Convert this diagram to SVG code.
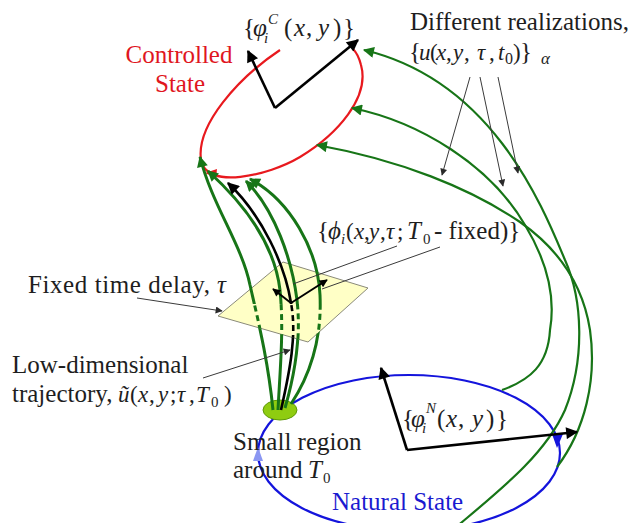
<svg xmlns="http://www.w3.org/2000/svg" xmlns:xlink="http://www.w3.org/1999/xlink" width="633" height="523" viewBox="0 0 633 523">
<style>
  text { font-family: "Liberation Serif", "Times New Roman", serif; font-size: 25px; fill: #1e1e1e; }
  .it { font-style: italic; }
  .sub { font-size: 15px; }
  .m { font-size: 23px; }
  .gr { fill: none; stroke: #177517; stroke-width: 3; }
  .gr2 { fill: none; stroke: #177517; stroke-width: 2.2; }
  .bk { fill: none; stroke: #000; stroke-width: 2.6; }
  .ptr { fill: none; stroke: #3a3a3a; stroke-width: 1; }
  .ax { fill: none; stroke: #000; stroke-width: 2.6; }
</style>
<defs>
  <marker id="ga" viewBox="0 0 10 10" refX="9" refY="5" markerUnits="userSpaceOnUse" markerWidth="14" markerHeight="11" orient="auto">
    <path d="M0,0 L10,5 L0,10 z" fill="#177517"/>
  </marker>
  <marker id="ka" viewBox="0 0 10 10" refX="9" refY="5" markerUnits="userSpaceOnUse" markerWidth="15" markerHeight="12" orient="auto">
    <path d="M0,0 L10,5 L0,10 z" fill="#000"/>
  </marker>
  <marker id="ks" viewBox="0 0 10 10" refX="9" refY="5" markerUnits="userSpaceOnUse" markerWidth="10" markerHeight="8" orient="auto">
    <path d="M0,0 L10,5 L0,10 z" fill="#000"/>
  </marker>
  <marker id="sa" viewBox="0 0 10 10" refX="9" refY="5" markerUnits="userSpaceOnUse" markerWidth="10" markerHeight="7" orient="auto">
    <path d="M0,0 L10,5 L0,10 z" fill="#2a2a2a"/>
  </marker>
  <clipPath id="lower">
    <polygon points="232,304 350,304 308,342 218,316"/>
  </clipPath>
  <clipPath id="outer">
    <path clip-rule="evenodd" d="M0,0H633V523H0Z M232,304 L218,316 L308,342 L350,304 Z"/>
  </clipPath>
  <path id="g1" d="M273,410 C268,360 258,320 250,285 C242,245 212,205 200,157"/>
  <path id="g2" d="M278,410 C280,370 284,330 280,290 C274,240 240,200 208,171"/>
  <path id="g3" d="M285,408 C296,370 301,335 297,300 C292,260 275,210 246,181"/>
  <path id="g4" d="M291,404 C310,375 322,340 320,295 C318,250 290,200 250,179"/>
  <path id="bt" d="M281,410 C290,370 297,335 291,303 C285,265 262,215 228,183"/>
</defs>

<g id="natural-state">
  <ellipse cx="409" cy="453" rx="151" ry="78" fill="none" stroke="#1414dc" stroke-width="2.2"/>
  <polygon points="258,447 253,461 263,461" fill="#8a96f2"/>
  <polygon points="557,448 552,434 563,434" fill="#1414dc"/>
  <text x="332" y="510" style="fill:#1a1ad0">Natural State</text>
</g>

<g id="controlled-state">
  <path d="M280,50 C238,78 196,125 201,160 C206,190 268,176 300,157 C338,134 370,97 361,65 C359,57 356,52 353,49" fill="none" stroke="#e8191e" stroke-width="2.2"/>
  <polygon points="205,173 217,169 216,178" fill="#e8191e"/>
  <text x="179" y="63" text-anchor="middle" style="fill:#e0161e">Controlled</text>
  <text x="180" y="92" text-anchor="middle" style="fill:#e0161e">State</text>
</g>

<g id="plane">
  <polygon points="218,316 283,262 368,288 308,342" fill="#ffffc6" stroke="#8a8a7a" stroke-width="1"/>
</g>

<g id="small-region">
  <ellipse cx="280" cy="410" rx="17" ry="10" fill="#8fcc10" stroke="#5f9a08" stroke-width="1"/>
</g>

<g id="connectors">
  <g clip-path="url(#outer)">
    <use xlink:href="#g1" class="gr" marker-end="url(#ga)"/>
    <use xlink:href="#g2" class="gr" marker-end="url(#ga)"/>
    <use xlink:href="#g3" class="gr" marker-end="url(#ga)"/>
    <use xlink:href="#g4" class="gr" marker-end="url(#ga)"/>
    <use xlink:href="#bt" class="bk" marker-end="url(#ka)"/>
  </g>
  <g clip-path="url(#lower)" stroke-dasharray="6,4">
    <use xlink:href="#g1" class="gr"/>
    <use xlink:href="#g2" class="gr"/>
    <use xlink:href="#g3" class="gr"/>
    <use xlink:href="#g4" class="gr"/>
    <use xlink:href="#bt" class="bk"/>
  </g>
  <path class="gr2" d="M502,390 C530,380 548,365 550,330 C556,295 545,258 525,225 C490,165 420,122 352,108" marker-end="url(#ga)"/>
  <path class="gr2" d="M455,528 C500,490 545,455 565,410 C585,360 583,300 565,260 C540,200 490,80 364,50" marker-end="url(#ga)"/>
  <path class="gr2" d="M557,467 C585,430 597,380 590,330 C583,285 560,250 520,222 C470,188 400,160 317,145" marker-end="url(#ga)"/>
  <line class="ptr" x1="470" y1="77" x2="442" y2="175" marker-end="url(#sa)"/>
  <line class="ptr" x1="480" y1="77" x2="503" y2="186" marker-end="url(#sa)"/>
  <line class="ptr" x1="498" y1="77" x2="518" y2="173" marker-end="url(#sa)"/>
  <line class="ptr" x1="137" y1="298" x2="222" y2="311" marker-end="url(#sa)"/>
  <line class="ptr" x1="203" y1="378" x2="290" y2="350" marker-end="url(#sa)"/>
  <line class="ptr" x1="397" y1="246" x2="293" y2="284"/>
  <line class="ptr" x1="440" y1="247" x2="322" y2="289"/>
</g>

<g id="axes-controlled">
  <path class="ax" d="M275,108 L248,51" marker-end="url(#ka)"/>
  <path class="ax" d="M275,108 L358,40" marker-end="url(#ka)"/>
  <text y="36"><tspan x="243">{</tspan><tspan x="253" class="it">φ</tspan><tspan x="264" y="43" class="it sub">i</tspan><tspan x="268" y="24" class="it sub">C</tspan><tspan x="284" y="36">(</tspan><tspan x="294" class="it">x</tspan><tspan x="306">,</tspan><tspan x="318" class="it">y</tspan><tspan x="333">)</tspan><tspan x="343">}</tspan></text>
</g>

<g id="axes-natural">
  <path class="ax" d="M407,450 L381,368" marker-end="url(#ka)"/>
  <path class="ax" d="M407,450 L577,432" marker-end="url(#ka)"/>
  <text y="427"><tspan x="402">{</tspan><tspan x="411" class="it">φ</tspan><tspan x="422" y="433" class="it sub">i</tspan><tspan x="426" y="413" class="it sub">N</tspan><tspan x="437" y="427">(</tspan><tspan x="446" class="it">x</tspan><tspan x="458">,</tspan><tspan x="472" class="it">y</tspan><tspan x="486">)</tspan><tspan x="496">}</tspan></text>
</g>

<g id="axes-phi">
  <path fill="none" stroke="#000" stroke-width="2" d="M291,303 L273,289" marker-end="url(#ks)"/>
  <path fill="none" stroke="#000" stroke-width="2" d="M291,303 L327,280" marker-end="url(#ks)"/>
  <text y="239"><tspan x="317">{</tspan><tspan x="328" class="it">ϕ</tspan><tspan x="341" y="244" class="it sub">i</tspan><tspan x="346" y="239" class="m">(</tspan><tspan x="354" class="it m">x</tspan><tspan x="364" class="m">,</tspan><tspan x="369" class="it m">y</tspan><tspan x="380" class="m">,</tspan><tspan x="386" class="it m">τ</tspan><tspan x="397" class="m">;</tspan><tspan x="407" class="it">T</tspan><tspan x="423" y="244" class="sub">0</tspan><tspan x="434" y="239">- fixed)}</tspan></text>
</g>

<g id="label-realizations">
  <text x="410" y="30">Different realizations,</text>
  <text y="60"><tspan x="409">{</tspan><tspan x="419" class="it m">u</tspan><tspan x="430" class="m">(</tspan><tspan x="436" class="it m">x</tspan><tspan x="446" class="m">,</tspan><tspan x="453" class="it m">y</tspan><tspan x="464" class="m">,</tspan><tspan x="477" class="it m">τ</tspan><tspan x="489" class="m">,</tspan><tspan x="498" class="it m">t</tspan><tspan x="505" y="64" style="font-size:16px">0</tspan><tspan x="513" y="60" class="m">)</tspan><tspan x="520">}</tspan><tspan x="541" y="64" class="it" style="font-size:17px">α</tspan></text>
</g>

<g id="label-delay">
  <text y="293"><tspan x="28" textLength="182" lengthAdjust="spacing">Fixed time delay,</tspan><tspan x="217" class="it">τ</tspan></text>
</g>

<g id="label-trajectory">
  <text x="12" y="373">Low-dimensional</text>
  <text y="402"><tspan x="12">trajectory,</tspan><tspan x="118" class="it m">ũ</tspan><tspan x="130" class="m">(</tspan><tspan x="138" class="it m">x</tspan><tspan x="149" class="m">,</tspan><tspan x="158" class="it m">y</tspan><tspan x="170" class="m">;</tspan><tspan x="177" class="it m">τ</tspan><tspan x="189" class="m">,</tspan><tspan x="196" class="it m">T</tspan><tspan x="211" y="407" class="sub">0</tspan><tspan x="224" y="402" class="m">)</tspan></text>
</g>

<g id="label-small-region">
  <text x="233" y="450">Small region</text>
  <text y="478"><tspan x="233">around </tspan><tspan x="308" class="it">T</tspan><tspan x="323" y="483" class="sub">0</tspan></text>
</g>
</svg>
